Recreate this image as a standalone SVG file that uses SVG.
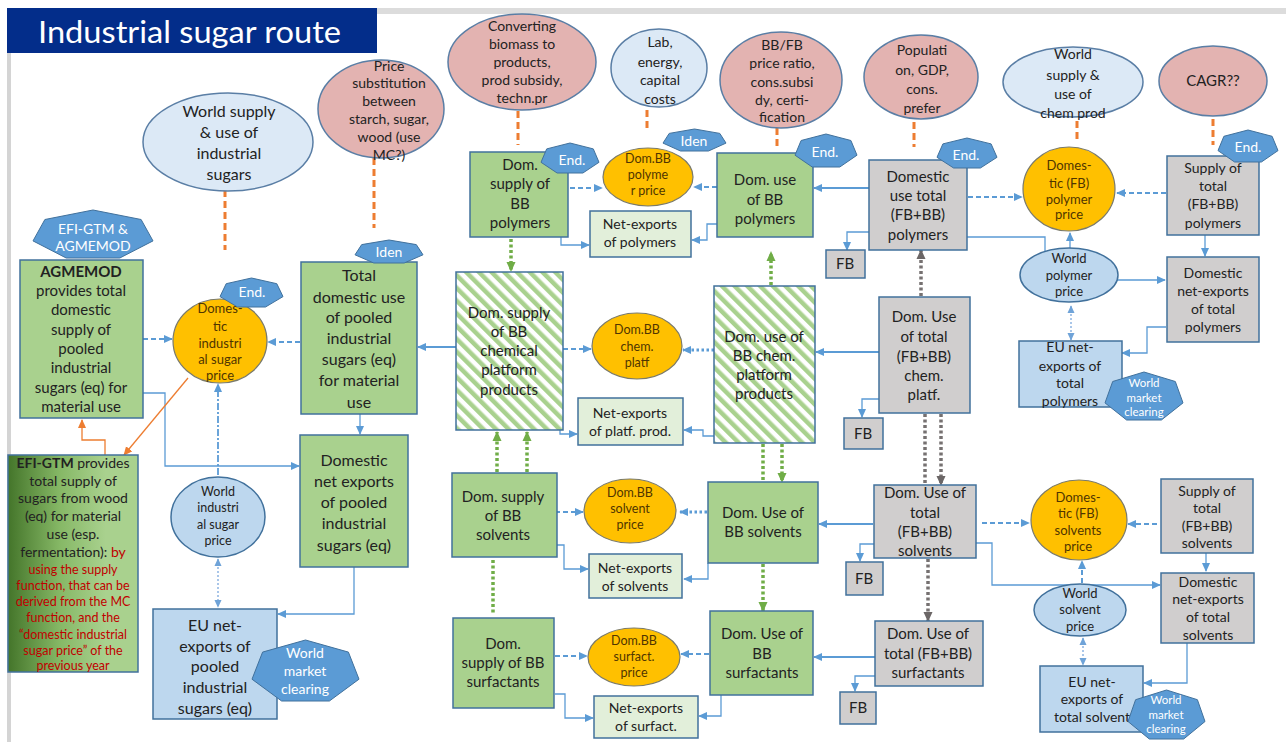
<svg xmlns="http://www.w3.org/2000/svg" width="1286" height="742" viewBox="0 0 1286 742">
<defs>
<style>
.tx{font-family:Lato,"Noto Sans","Liberation Sans",sans-serif;text-anchor:middle;fill:#222}
.s16{font-size:16px}.s15{font-size:15px}.s14{font-size:14px}.s13{font-size:13px}.s12{font-size:12.5px}.s11{font-size:11.5px}
.ot{fill:#4f3500}.wt{fill:#fff}.rd{fill:#c00000}
.g{fill:#a9d18e;stroke:#41719c;stroke-width:1.5}
.st{fill:url(#stripe);stroke:#41719c;stroke-width:1.5}
.lg{fill:#e2efda;stroke:#41719c;stroke-width:1.5}
.gr{fill:#d0cece;stroke:#41719c;stroke-width:1.5}
.lb{fill:#bdd7ee;stroke:#41719c;stroke-width:1.5}
.or{fill:#ffc000;stroke:#7a7a6a;stroke-width:1.2}
.pk{fill:#e3b3b1;stroke:#5a7ea5;stroke-width:1.5}
.sk{fill:#dce9f6;stroke:#5a7ea5;stroke-width:1.5}
.hx{fill:#5b9bd5;stroke:#41719c;stroke-width:1}
.cs{stroke:#5b9bd5;stroke-width:1.3;fill:none}
.ct{stroke:#5b9bd5;stroke-width:2.2;fill:none}
.cd{stroke:#5b9bd5;stroke-width:2;stroke-dasharray:5 3;fill:none}
.cdd{stroke:#5b9bd5;stroke-width:3;stroke-dasharray:2.5 2.5;fill:none}
.cda{stroke:#5b9bd5;stroke-width:1.8;stroke-dasharray:7 2 2 2;fill:none}
.cl{stroke:#8db4e2;stroke-width:1.5;stroke-dasharray:2 2;fill:none}
.od{stroke:#ed7d31;stroke-width:3;stroke-dasharray:7 4;fill:none}
.os{stroke:#ed7d31;stroke-width:1.3;fill:none}
.gd{stroke:#70ad47;stroke-width:3.5;stroke-dasharray:3 2.5;fill:none}
.kd{stroke:#767171;stroke-width:3.5;stroke-dasharray:3 2.5;fill:none}
</style>
<pattern id="stripe" width="9" height="9" patternUnits="userSpaceOnUse" patternTransform="rotate(-45)">
<rect width="9" height="9" fill="#fff"/><rect width="4.5" height="9" fill="#a9d18e"/>
</pattern>
<linearGradient id="efi" x1="0" y1="0" x2="1" y2="0">
<stop offset="0" stop-color="#44752a"/><stop offset="0.4" stop-color="#86b866"/><stop offset="0.75" stop-color="#a9d18e"/>
</linearGradient>
<marker id="ab" viewBox="0 0 10 10" refX="9" refY="5" markerWidth="9" markerHeight="9" markerUnits="userSpaceOnUse" orient="auto-start-reverse"><path d="M0,0.5 L10,5 L0,9.5z" fill="#5b9bd5"/></marker>
<marker id="al" viewBox="0 0 10 10" refX="9" refY="5" markerWidth="8" markerHeight="8" markerUnits="userSpaceOnUse" orient="auto-start-reverse"><path d="M0,0.5 L10,5 L0,9.5z" fill="#6fa3d8"/></marker>
<marker id="ag" viewBox="0 0 10 10" refX="9" refY="5" markerWidth="10" markerHeight="10" markerUnits="userSpaceOnUse" orient="auto"><path d="M0,0.5 L10,5 L0,9.5z" fill="#70ad47"/></marker>
<marker id="ak" viewBox="0 0 10 10" refX="9" refY="5" markerWidth="10" markerHeight="10" markerUnits="userSpaceOnUse" orient="auto"><path d="M0,0.5 L10,5 L0,9.5z" fill="#6b6666"/></marker>
<marker id="ao" viewBox="0 0 10 10" refX="9" refY="5" markerWidth="9" markerHeight="9" markerUnits="userSpaceOnUse" orient="auto"><path d="M0,0.5 L10,5 L0,9.5z" fill="#ed7d31"/></marker>
</defs>
<rect width="1286" height="742" fill="#fff"/>
<line x1="377" y1="11" x2="1286" y2="11" stroke="#dcdcdc" stroke-width="6"/>
<line x1="9" y1="52" x2="9" y2="742" stroke="#d4d4d4" stroke-width="4"/>
<g id="title"><rect x="7" y="8" width="370" height="45" fill="#032d8a"/>
<text x="38" y="43" font-family="Lato,'Noto Sans',sans-serif" font-size="30" fill="#fff" textLength="303" lengthAdjust="spacingAndGlyphs">Industrial sugar route</text></g>

<g id="connectors">
<path class="od" d="M225,190V250M374,158V228M518,111V145M647,110V129M777,128V150M914,122V147M1077,121V140M1213,119V145"/>
<path class="cd" marker-end="url(#ab)" d="M143,339H172"/>
<path class="cd" marker-end="url(#ab)" d="M300,342H268"/>
<path class="cda" marker-end="url(#ab)" d="M218,475V384"/>
<path class="cl" marker-start="url(#al)" marker-end="url(#al)" d="M218,559V607"/>
<path class="cd" marker-end="url(#ab)" d="M570,188H602"/>
<path class="cd" marker-end="url(#ab)" d="M717,187H694"/>
<path class="cd" marker-end="url(#ab)" d="M968,197H1022"/>
<path class="cd" marker-end="url(#ab)" d="M1166,193H1117"/>
<path class="cs" marker-end="url(#ab)" d="M1070,248V233"/>
<path class="cl" marker-start="url(#al)" marker-end="url(#al)" d="M1071,306V340"/>
<path class="cd" marker-end="url(#ab)" d="M563,349H591"/>
<path class="cdd" marker-end="url(#ab)" d="M714,350H683"/>
<path class="cd" marker-end="url(#ab)" d="M547,512H583"/>
<path class="cdd" marker-end="url(#ab)" d="M707,512H680"/>
<path class="cd" marker-end="url(#ab)" d="M555,656H587"/>
<path class="cd" marker-end="url(#ab)" d="M709,654H681"/>
<path class="cd" marker-end="url(#ab)" d="M982,523H1029"/>
<path class="cd" marker-end="url(#ab)" d="M1157,524H1128"/>
<path class="cd" marker-end="url(#ab)" d="M1082,583V561"/>
<path class="cl" marker-start="url(#al)" marker-end="url(#al)" d="M1083,638V665"/>
<path class="ct" marker-end="url(#ab)" d="M456,347H418"/>
<path class="ct" marker-end="url(#ab)" d="M869,188H814"/>
<path class="ct" marker-end="url(#ab)" d="M879,352H816"/>
<path class="ct" marker-end="url(#ab)" d="M873,524H819"/>
<path class="ct" marker-end="url(#ab)" d="M875,657H814"/>
<path class="cs" marker-end="url(#ab)" d="M360,414V434"/>
<path class="cs" marker-end="url(#ab)" d="M143,393H165V466H299"/>
<path class="cs" marker-end="url(#ab)" d="M354,548V614H278"/>
<path class="cs" marker-end="url(#ab)" d="M561,237V245H589"/>
<path class="cs" marker-end="url(#ab)" d="M717,224H707V240H692"/>
<path class="cs" marker-end="url(#ab)" d="M869,232H847V250"/>
<path class="cs" marker-end="url(#ab)" d="M967,237H1045V280H1165"/>
<path class="cs" marker-end="url(#ab)" d="M1205,235V256"/>
<path class="cs" marker-end="url(#ab)" d="M1166,327H1147V353H1122"/>
<path class="cs" marker-end="url(#ab)" d="M890,399H862V417"/>
<path class="cs" marker-end="url(#ab)" d="M714,436H703V430H684"/>
<path class="cs" marker-end="url(#ab)" d="M560,430V434H577"/>
<path class="cs" marker-end="url(#ab)" d="M887,544H860V561"/>
<path class="cs" marker-end="url(#ab)" d="M975,543H992V585H1160"/>
<path class="cs" marker-end="url(#ab)" d="M1206,553V571"/>
<path class="cs" marker-end="url(#ab)" d="M1187,643V683H1144"/>
<path class="cs" marker-end="url(#ab)" d="M708,563V579H684"/>
<path class="cs" marker-end="url(#ab)" d="M556,545H564V569H588"/>
<path class="cs" marker-end="url(#ab)" d="M883,676H855V691"/>
<path class="cs" marker-end="url(#ab)" d="M721,695V716H699"/>
<path class="cs" marker-end="url(#ab)" d="M555,694H565V718H593"/>
<path class="os" marker-end="url(#ao)" d="M105,455V440H82V420"/>
<path class="os" marker-end="url(#ao)" d="M188,378L124,455"/>
<path class="gd" marker-end="url(#ag)" d="M511,239V271"/>
<path class="gd" marker-end="url(#ag)" d="M771,285V252"/>
<path class="gd" marker-end="url(#ag)" d="M497,472V432"/>
<path class="gd" marker-end="url(#ag)" d="M527,472V432"/>
<path class="gd" d="M763,444V482"/>
<path class="gd" marker-end="url(#ag)" d="M782,444V482"/>
<path class="gd" d="M493,560V613"/>
<path class="gd" marker-end="url(#ag)" d="M763,564V611"/>
<path class="kd" marker-end="url(#ak)" d="M921,296V250"/>
<path class="kd" d="M925,414V485"/>
<path class="kd" marker-end="url(#ak)" d="M941,414V485"/>
<path class="kd" marker-end="url(#ak)" d="M928,559V621"/>
</g>

<g id="n-agmemod"><rect class="g" x="20" y="260" width="123" height="158"/>
<text class="tx s15" x="81"><tspan x="81" y="277" font-weight="bold">AGMEMOD</tspan><tspan x="81" y="296">provides total</tspan><tspan x="81" y="315">domestic</tspan><tspan x="81" y="335">supply of</tspan><tspan x="81" y="354">pooled</tspan><tspan x="81" y="373">industrial</tspan><tspan x="81" y="393">sugars (eq) for</tspan><tspan x="81" y="412">material use</tspan></text></g>

<g id="n-efigtm"><rect x="8" y="455" width="130" height="217" fill="url(#efi)" stroke="#41719c" stroke-width="1.5"/>
<text class="tx s14" x="73"><tspan x="73" y="468"><tspan font-weight="bold">EFI-GTM</tspan> provides</tspan><tspan x="73" y="486">total supply of</tspan><tspan x="73" y="503">sugars from wood</tspan><tspan x="73" y="521">(eq) for material</tspan><tspan x="73" y="539">use (esp.</tspan><tspan x="73" y="557">fermentation): <tspan class="rd">by</tspan></tspan></text>
<text class="tx s12 rd" x="73"><tspan x="73" y="574">using the supply</tspan><tspan x="73" y="590">function, that can be</tspan><tspan x="73" y="606">derived from the MC</tspan><tspan x="73" y="622">function, and  the</tspan><tspan x="73" y="639">“domestic industrial</tspan><tspan x="73" y="655">sugar price” of the</tspan><tspan x="73" y="670">previous year</tspan></text></g>

<g id="n-totaluse"><rect class="g" x="301" y="262" width="116" height="152"/>
<text class="tx s16"><tspan x="359" y="281">Total</tspan><tspan x="359" y="303">domestic use</tspan><tspan x="359" y="323">of pooled</tspan><tspan x="359" y="344">industrial</tspan><tspan x="359" y="365">sugars (eq)</tspan><tspan x="359" y="386">for material</tspan><tspan x="359" y="408">use</tspan></text></g>

<g id="n-domnetexp"><rect class="g" x="300" y="435" width="108" height="132"/>
<text class="tx s16"><tspan x="354" y="466">Domestic</tspan><tspan x="354" y="487">net exports</tspan><tspan x="354" y="508">of pooled</tspan><tspan x="354" y="529">industrial</tspan><tspan x="354" y="551">sugars (eq)</tspan></text></g>

<g id="n-eunetexp"><rect class="lb" x="153" y="609" width="124" height="110"/>
<text class="tx s16"><tspan x="215" y="631">EU net-</tspan><tspan x="215" y="652">exports of</tspan><tspan x="215" y="672">pooled</tspan><tspan x="215" y="693">industrial</tspan><tspan x="215" y="714">sugars (eq)</tspan></text></g>

<g id="n-sugarprice"><ellipse class="or" cx="220" cy="341" rx="47" ry="42"/>
<text class="tx s13 ot"><tspan x="220" y="313">Domes-</tspan><tspan x="220" y="331">tic</tspan><tspan x="220" y="348">industri</tspan><tspan x="220" y="364">al sugar</tspan><tspan x="220" y="380">price</tspan></text></g>

<g id="n-worldsugarprice"><ellipse class="lb" cx="218" cy="517" rx="47" ry="40"/>
<text class="tx s12"><tspan x="218" y="496">World</tspan><tspan x="218" y="512">industri</tspan><tspan x="218" y="529">al sugar</tspan><tspan x="218" y="545">price</tspan></text></g>

<g id="n-worldsupply"><ellipse class="sk" cx="228" cy="142" rx="85" ry="49"/>
<text class="tx s16"><tspan x="229" y="117">World supply</tspan><tspan x="229" y="138">&amp; use of</tspan><tspan x="229" y="159">industrial</tspan><tspan x="229" y="180">sugars</tspan></text></g>

<g id="n-pricesubst"><ellipse class="pk" cx="381" cy="109" rx="63" ry="49"/>
<text class="tx s14"><tspan x="389" y="71">Price</tspan><tspan x="389" y="88">substitution</tspan><tspan x="389" y="106">between</tspan><tspan x="389" y="124">starch, sugar,</tspan><tspan x="389" y="142">wood (use</tspan><tspan x="389" y="160">MC?)</tspan></text></g>

<g id="n-converting"><ellipse class="pk" cx="522" cy="62" rx="74" ry="48"/>
<text class="tx s14"><tspan x="522" y="31">Converting</tspan><tspan x="522" y="49">biomass to</tspan><tspan x="522" y="67">products,</tspan><tspan x="522" y="85">prod subsidy,</tspan><tspan x="522" y="103">techn.pr</tspan></text></g>

<g id="n-lab"><ellipse class="sk" cx="659" cy="68" rx="48" ry="39"/>
<text class="tx s14"><tspan x="660" y="47">Lab,</tspan><tspan x="660" y="67">energy,</tspan><tspan x="660" y="85">capital</tspan><tspan x="660" y="104">costs</tspan></text></g>

<g id="n-bbfb"><ellipse class="pk" cx="781" cy="80" rx="61" ry="48"/>
<text class="tx s14"><tspan x="782" y="50">BB/FB</tspan><tspan x="782" y="68">price ratio,</tspan><tspan x="782" y="87">cons.subsi</tspan><tspan x="782" y="105">dy, certi-</tspan><tspan x="782" y="122">fication</tspan></text></g>

<g id="n-population"><ellipse class="pk" cx="921" cy="77" rx="57" ry="42"/>
<text class="tx s14"><tspan x="922" y="55">Populati</tspan><tspan x="922" y="75">on, GDP,</tspan><tspan x="922" y="94">cons.</tspan><tspan x="922" y="113">prefer</tspan></text></g>

<g id="n-worldchem"><ellipse class="sk" cx="1073" cy="82" rx="70" ry="35"/>
<text class="tx s14"><tspan x="1073" y="59">World</tspan><tspan x="1073" y="80">supply &amp;</tspan><tspan x="1073" y="99">use of</tspan><tspan x="1073" y="118">chem prod</tspan></text></g>

<g id="n-cagr"><ellipse class="pk" cx="1213" cy="81" rx="54" ry="35"/>
<text class="tx s15" x="1213" y="86">CAGR??</text></g>

<g id="n-supplybbpoly"><rect class="g" x="470" y="152" width="98" height="85"/>
<text class="tx s15"><tspan x="520" y="170">Dom.</tspan><tspan x="520" y="189">supply of</tspan><tspan x="520" y="209">BB</tspan><tspan x="520" y="228">polymers</tspan></text></g>

<g id="n-polyprice"><ellipse class="or" cx="648" cy="177" rx="45" ry="29"/>
<text class="tx s12 ot"><tspan x="648" y="163">Dom.BB</tspan><tspan x="648" y="179">polyme</tspan><tspan x="648" y="195">r price</tspan></text></g>

<g id="n-netpoly"><rect class="lg" x="590" y="211" width="101" height="46"/>
<text class="tx s14"><tspan x="640" y="229">Net-exports</tspan><tspan x="640" y="247">of polymers</tspan></text></g>

<g id="n-usebbpoly"><rect class="g" x="717" y="153" width="96" height="84"/>
<text class="tx s15"><tspan x="765" y="185">Dom. use</tspan><tspan x="765" y="205">of BB</tspan><tspan x="765" y="224">polymers</tspan></text></g>

<g id="n-usetotpoly"><rect class="gr" x="869" y="160" width="98" height="90"/>
<text class="tx s15"><tspan x="918" y="182">Domestic</tspan><tspan x="918" y="201">use total</tspan><tspan x="918" y="220">(FB+BB)</tspan><tspan x="918" y="240">polymers</tspan></text></g>

<g id="n-fbpolyprice"><ellipse class="or" cx="1069" cy="189" rx="46" ry="42"/>
<text class="tx s13 ot"><tspan x="1069" y="170">Domes-</tspan><tspan x="1069" y="188">tic (FB)</tspan><tspan x="1069" y="204">polymer</tspan><tspan x="1069" y="219">price</tspan></text></g>

<g id="n-supplytotpoly"><rect class="gr" x="1167" y="156" width="92" height="79"/>
<text class="tx s14"><tspan x="1213" y="173">Supply of</tspan><tspan x="1213" y="191">total</tspan><tspan x="1213" y="209">(FB+BB)</tspan><tspan x="1213" y="228">polymers</tspan></text></g>

<g id="n-worldpolyprice"><ellipse class="lb" cx="1069" cy="275" rx="49" ry="27"/>
<text class="tx s13"><tspan x="1069" y="263">World</tspan><tspan x="1069" y="280">polymer</tspan><tspan x="1069" y="296">price</tspan></text></g>

<g id="n-netexptotpoly"><rect class="gr" x="1167" y="257" width="92" height="85"/>
<text class="tx s14"><tspan x="1213" y="278">Domestic</tspan><tspan x="1213" y="296">net-exports</tspan><tspan x="1213" y="314">of total</tspan><tspan x="1213" y="332">polymers</tspan></text></g>

<g id="n-eupoly"><rect class="lb" x="1019" y="341" width="103" height="66"/>
<text class="tx s14"><tspan x="1070" y="352">EU net-</tspan><tspan x="1070" y="371">exports of</tspan><tspan x="1070" y="388">total</tspan><tspan x="1070" y="406">polymers</tspan></text></g>

<g id="n-fb1"><rect class="gr" x="826" y="250" width="39" height="28"/><text class="tx s15" x="845" y="269">FB</text></g>
<g id="n-fb2"><rect class="gr" x="844" y="418" width="39" height="31"/><text class="tx s15" x="863" y="439">FB</text></g>
<g id="n-fb3"><rect class="gr" x="846" y="562" width="37" height="33"/><text class="tx s15" x="864" y="584">FB</text></g>
<g id="n-fb4"><rect class="gr" x="840" y="692" width="36" height="32"/><text class="tx s15" x="858" y="713">FB</text></g>

<g id="n-supplybbchem"><rect class="st" x="456" y="272" width="107" height="158"/>
<text class="tx s15"><tspan x="509" y="318">Dom. supply</tspan><tspan x="509" y="337">of BB</tspan><tspan x="509" y="356">chemical</tspan><tspan x="509" y="375">platform</tspan><tspan x="509" y="395">products</tspan></text></g>

<g id="n-chemprice"><ellipse class="or" cx="637" cy="346" rx="45" ry="33"/>
<text class="tx s12 ot"><tspan x="637" y="334">Dom.BB</tspan><tspan x="637" y="351">chem.</tspan><tspan x="637" y="367">platf</tspan></text></g>

<g id="n-netplatf"><rect class="lg" x="578" y="398" width="105" height="47"/>
<text class="tx s14"><tspan x="630" y="418">Net-exports</tspan><tspan x="630" y="436">of platf. prod.</tspan></text></g>

<g id="n-usebbchem"><rect class="st" x="714" y="286" width="101" height="157"/>
<text class="tx s15"><tspan x="764" y="342">Dom. use of</tspan><tspan x="764" y="361">BB chem.</tspan><tspan x="764" y="380">platform</tspan><tspan x="764" y="399">products</tspan></text></g>

<g id="n-usetotchem"><rect class="gr" x="879" y="297" width="91" height="116"/>
<text class="tx s15"><tspan x="924" y="322">Dom. Use</tspan><tspan x="924" y="342">of total</tspan><tspan x="924" y="362">(FB+BB)</tspan><tspan x="924" y="381">chem.</tspan><tspan x="924" y="400">platf.</tspan></text></g>

<g id="n-supplybbsolv"><rect class="g" x="452" y="473" width="105" height="84"/>
<text class="tx s15"><tspan x="503" y="502">Dom. supply</tspan><tspan x="503" y="521">of BB</tspan><tspan x="503" y="540">solvents</tspan></text></g>

<g id="n-solvprice"><ellipse class="or" cx="630" cy="511" rx="46" ry="32"/>
<text class="tx s12 ot"><tspan x="630" y="497">Dom.BB</tspan><tspan x="630" y="513">solvent</tspan><tspan x="630" y="529">price</tspan></text></g>

<g id="n-netsolv"><rect class="lg" x="589" y="554" width="93" height="44"/>
<text class="tx s14"><tspan x="635" y="573">Net-exports</tspan><tspan x="635" y="591">of solvents</tspan></text></g>

<g id="n-usebbsolv"><rect class="g" x="708" y="482" width="110" height="81"/>
<text class="tx s15"><tspan x="763" y="518">Dom. Use of</tspan><tspan x="763" y="537">BB solvents</tspan></text></g>

<g id="n-usetotsolv"><rect class="gr" x="874" y="485" width="102" height="73"/>
<text class="tx s15"><tspan x="925" y="498">Dom. Use of</tspan><tspan x="925" y="518">total</tspan><tspan x="925" y="537">(FB+BB)</tspan><tspan x="925" y="556">solvents</tspan></text></g>

<g id="n-fbsolvprice"><ellipse class="or" cx="1079" cy="520" rx="48" ry="40"/>
<text class="tx s13 ot"><tspan x="1078" y="502">Domes-</tspan><tspan x="1078" y="518">tic (FB)</tspan><tspan x="1078" y="535">solvents</tspan><tspan x="1078" y="551">price</tspan></text></g>

<g id="n-supplytotsolv"><rect class="gr" x="1161" y="479" width="92" height="74"/>
<text class="tx s14"><tspan x="1207" y="496">Supply of</tspan><tspan x="1207" y="513">total</tspan><tspan x="1207" y="531">(FB+BB)</tspan><tspan x="1207" y="548">solvents</tspan></text></g>

<g id="n-worldsolvprice"><ellipse class="lb" cx="1080" cy="610" rx="46" ry="26"/>
<text class="tx s13"><tspan x="1080" y="598">World</tspan><tspan x="1080" y="614">solvent</tspan><tspan x="1080" y="631">price</tspan></text></g>

<g id="n-netexptotsolv"><rect class="gr" x="1161" y="573" width="93" height="70"/>
<text class="tx s14"><tspan x="1208" y="587">Domestic</tspan><tspan x="1208" y="604">net-exports</tspan><tspan x="1208" y="622">of total</tspan><tspan x="1208" y="640">solvents</tspan></text></g>

<g id="n-eusolv"><rect class="lb" x="1040" y="666" width="103" height="66"/>
<text class="tx s14"><tspan x="1092" y="687">EU net-</tspan><tspan x="1092" y="704">exports of</tspan><tspan x="1092" y="722">total solvent</tspan></text></g>

<g id="n-supplybbsurf"><rect class="g" x="453" y="618" width="101" height="90"/>
<text class="tx s15"><tspan x="503" y="649">Dom.</tspan><tspan x="503" y="668">supply of BB</tspan><tspan x="503" y="687">surfactants</tspan></text></g>

<g id="n-surfprice"><ellipse class="or" cx="634" cy="657" rx="46" ry="29"/>
<text class="tx s12 ot"><tspan x="634" y="645">Dom.BB</tspan><tspan x="634" y="661">surfact.</tspan><tspan x="634" y="677">price</tspan></text></g>

<g id="n-netsurf"><rect class="lg" x="594" y="696" width="104" height="42"/>
<text class="tx s14"><tspan x="646" y="713">Net-exports</tspan><tspan x="646" y="731">of surfact.</tspan></text></g>

<g id="n-usebbsurf"><rect class="g" x="710" y="611" width="103" height="84"/>
<text class="tx s15"><tspan x="762" y="639">Dom. Use of</tspan><tspan x="762" y="659">BB</tspan><tspan x="762" y="678">surfactants</tspan></text></g>

<g id="n-usetotsurf"><rect class="gr" x="875" y="621" width="108" height="65"/>
<text class="tx s15"><tspan x="928" y="639">Dom. Use of</tspan><tspan x="928" y="659">total (FB+BB)</tspan><tspan x="928" y="678">surfactants</tspan></text></g>

<g id="h-efiagm"><polygon class="hx" points="93,210 141.1,219.5 153,240.9 119.8,258 66.2,258 33,240.9 44.9,219.5"/>
<text class="tx s14 wt"><tspan x="93" y="234">EFI-GTM &amp;</tspan><tspan x="93" y="251">AGMEMOD</tspan></text></g>
<g id="h-iden1"><polygon class="hx" points="389,240 416.3,244.6 423,254.8 404.2,263 373.8,263 355,254.8 361.7,244.6"/><text class="tx s14 wt" x="389" y="257">Iden</text></g>
<g id="h-end1"><polygon class="hx" points="251.5,278 276.8,283.7 283,296.6 265.5,307 237.5,307 220,296.6 226.2,283.7"/><text class="tx s14 wt" x="252" y="297">End.</text></g>
<g id="h-end2"><polygon class="hx" points="570,143 593.3,148.9 599,162.3 582.9,173 557.1,173 541,162.3 546.7,148.9"/><text class="tx s14 wt" x="572" y="165">End.</text></g>
<g id="h-iden2"><polygon class="hx" points="694.5,129 719.8,133.4 726,143.1 708.5,151 680.5,151 663,143.1 669.2,133.4"/><text class="tx s14 wt" x="694" y="146">Iden</text></g>
<g id="h-end3"><polygon class="hx" points="826,134 850.9,140.5 857,155.2 839.8,167 812.2,167 795,155.2 801.1,140.5"/><text class="tx s14 wt" x="825" y="157">End.</text></g>
<g id="h-end4"><polygon class="hx" points="967,138 991.1,143.9 997,157.3 980.4,168 953.6,168 937,157.3 942.9,143.9"/><text class="tx s14 wt" x="966" y="160">End.</text></g>
<g id="h-end5"><polygon class="hx" points="1248,130 1272.1,136.3 1278,150.6 1261.4,162 1234.6,162 1218,150.6 1223.9,136.3"/><text class="tx s14 wt" x="1248" y="152">End.</text></g>
<g id="h-wmc1"><polygon class="hx" points="305.5,640 348.4,652.1 359,679.2 329.4,701 281.6,701 252,679.2 262.6,652.1"/>
<text class="tx s14 wt"><tspan x="305" y="658">World</tspan><tspan x="305" y="676">market</tspan><tspan x="305" y="694">clearing</tspan></text></g>
<g id="h-wmc2"><polygon class="hx" points="1144,372 1175.3,381.5 1183,402.9 1161.4,420 1126.6,420 1105,402.9 1112.7,381.5"/>
<text class="tx s11 wt"><tspan x="1144" y="387">World</tspan><tspan x="1144" y="402">market</tspan><tspan x="1144" y="416">clearing</tspan></text></g>
<g id="h-wmc3"><polygon class="hx" points="1166.5,690 1197.4,699.7 1205,721.5 1183.7,739 1149.3,739 1128,721.5 1135.6,699.7"/>
<text class="tx s11 wt"><tspan x="1166" y="704">World</tspan><tspan x="1166" y="719">market</tspan><tspan x="1166" y="733">clearing</tspan></text></g>
</svg>
